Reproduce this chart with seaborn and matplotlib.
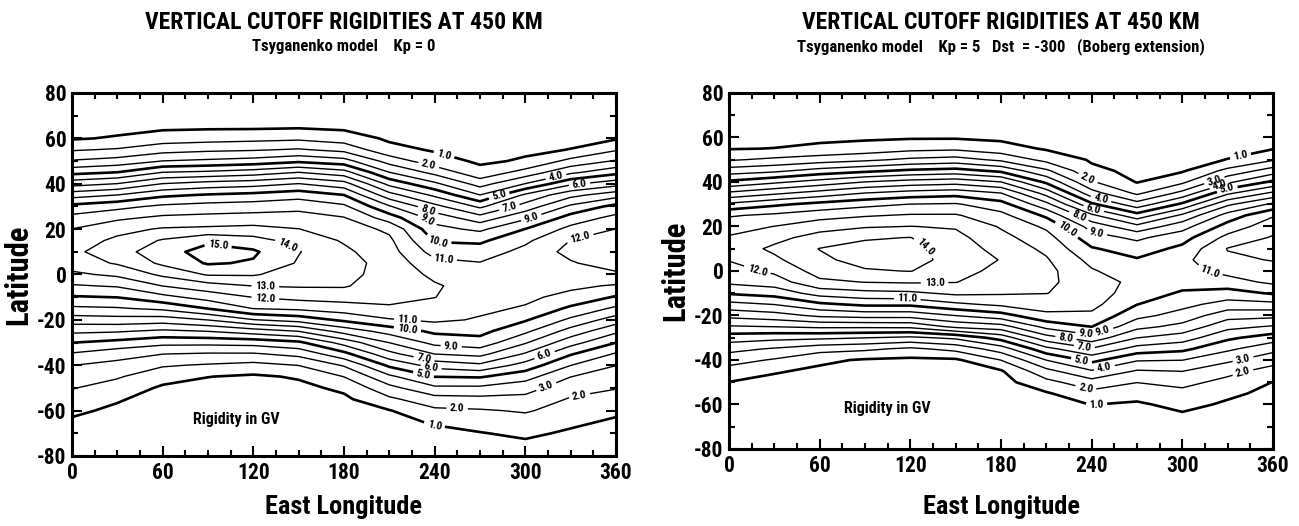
import numpy as np
import matplotlib
matplotlib.use("Agg")
import matplotlib.pyplot as plt
import seaborn as sns
from matplotlib.ticker import MultipleLocator
from matplotlib import font_manager
from matplotlib.font_manager import FontProperties

# ---------------- data ----------------
lats = [80, 75, 70, 65, 60, 55, 50, 45, 40, 35, 30, 25, 20, 15, 10, 5, 0,
        -5, -10, -15, -20, -25, -30, -35, -40, -45, -50, -55, -60, -65, -70, -75, -80]
lons = [0, 30, 60, 90, 120, 150, 180, 210, 240, 270, 300, 330, 360]
levels = [1, 2, 3, 4, 5, 6, 7, 8, 9, 10, 11, 12, 13, 14, 15]

# Kp = 0 : rigidity (GV) profiles, north -> south, one list per east longitude
kp0_lon000 = [0.1, 0.2, 0.4, 0.7, 0.9, 1.9, 3.1, 4.7, 6.6, 8.6, 10.3, 11.3, 12.02, 12.5, 12.8, 12.5, 11.8,
              10.9, 9.9, 8.8, 7.5, 6.2, 5.02, 3.9, 3.02, 2.5, 2.05, 1.6, 1.2, 0.85, 0.6, 0.35, 0.2]
kp0_lon030 = [0.1, 0.2, 0.4, 0.7, 1.1, 2.1, 3.4, 5.02, 7.02, 9.02, 10.7, 11.8, 12.7, 13.2, 13.5, 13.1, 12.2,
              11.1, 10.02, 8.9, 7.6, 6.1, 4.7, 3.4, 2.7, 2.1, 1.6, 1.1, 0.8, 0.55, 0.4, 0.25, 0.15]
kp0_lon060 = [0.1, 0.3, 0.5, 0.8, 1.5, 2.6, 4.02, 6.02, 8.02, 9.8, 11.2, 12.2, 13.1, 14.1, 14.7, 14.2, 13.2,
              12.02, 10.7, 9.2, 7.5, 5.8, 4.3, 3.02, 2.1, 1.4, 0.85, 0.6, 0.45, 0.35, 0.25, 0.15, 0.1]
kp0_lon090 = [0.1, 0.3, 0.5, 0.85, 1.6, 2.8, 4.2, 6.2, 8.4, 10.1, 11.4, 12.3, 13.2, 14.85, 15.3, 15.1, 14.1,
              12.6, 11.4, 10.02, 8.02, 6.02, 4.3, 2.9, 1.9, 1.02, 0.7, 0.5, 0.4, 0.3, 0.2, 0.15, 0.1]
kp0_lon120 = [0.1, 0.3, 0.5, 0.85, 1.7, 2.9, 4.4, 6.5, 8.6, 10.3, 11.5, 12.4, 13.3, 14.4, 15.15, 14.9, 14.1,
              13.02, 12.02, 11.02, 8.95, 6.5, 4.4, 2.9, 1.7, 0.85, 0.6, 0.45, 0.35, 0.25, 0.2, 0.15, 0.1]
kp0_lon150 = [0.1, 0.3, 0.55, 0.9, 1.8, 3.1, 4.8, 7.02, 9.02, 10.6, 11.7, 12.4, 13.02, 13.6, 14.05, 13.9, 13.5,
              13.1, 12.3, 11.2, 9.4, 7.02, 4.8, 3.3, 2.02, 1.1, 0.75, 0.55, 0.4, 0.3, 0.2, 0.15, 0.1]
kp0_lon180 = [0.1, 0.3, 0.5, 0.8, 1.5, 2.7, 4.4, 6.4, 8.4, 10.02, 11.2, 12.05, 12.5, 12.9, 13.2, 13.4, 13.3,
              13.1, 12.4, 11.5, 10.2, 8.4, 6.4, 4.7, 3.1, 2.02, 1.2, 0.8, 0.6, 0.45, 0.3, 0.2, 0.1]
kp0_lon210 = [0.1, 0.2, 0.35, 0.6, 0.85, 1.3, 2.6, 4.02, 5.7, 7.4, 9.1, 10.5, 11.8, 12.2, 12.4, 12.6, 12.6,
              12.4, 12.2, 11.9, 10.9, 9.4, 8.02, 6.7, 5.2, 3.8, 2.7, 1.8, 0.95, 0.7, 0.5, 0.3, 0.2]
kp0_lon240 = [0.1, 0.15, 0.3, 0.5, 0.7, 0.9, 1.4, 2.7, 4.2, 5.8, 7.3, 8.6, 9.3, 9.9, 10.6, 11.3, 11.8,
              12.1, 12.02, 11.6, 11.2, 10.2, 9.3, 8.02, 6.4, 5.02, 3.8, 2.6, 1.8, 1.1, 0.75, 0.45, 0.25]
kp0_lon270 = [0.1, 0.1, 0.2, 0.35, 0.5, 0.7, 0.85, 1.3, 2.6, 4.02, 5.8, 7.4, 8.8, 9.8, 10.5, 11.05, 11.3,
              11.6, 11.4, 11.2, 10.9, 10.3, 9.6, 8.3, 6.8, 5.1, 3.8, 2.7, 1.9, 1.4, 0.95, 0.6, 0.3]
kp0_lon300 = [0.1, 0.15, 0.25, 0.45, 0.65, 0.85, 1.1, 2.4, 4.02, 6.2, 7.4, 8.8, 10.02, 10.8, 11.3, 11.6, 11.7,
              11.4, 11.2, 10.9, 10.1, 9.2, 8.1, 6.9, 5.6, 4.4, 3.4, 2.7, 2.1, 1.6, 1.2, 0.8, 0.5]
kp0_lon330 = [0.1, 0.2, 0.35, 0.55, 0.8, 1.02, 2.3, 3.8, 5.8, 7.7, 9.2, 10.4, 11.3, 12.02, 12.3, 11.9, 11.6,
              11.2, 10.7, 9.8, 8.8, 7.6, 6.4, 5.1, 4.02, 3.02, 2.4, 1.9, 1.6, 1.2, 0.85, 0.55, 0.3]
kp0_lon360 = kp0_lon000

# Kp = 5, Dst = -300 (Boberg extension)
kp5_lon000 = [0.1, 0.15, 0.3, 0.5, 0.7, 0.95, 1.9, 3.5, 5.2, 7.2, 9.2, 10.9, 11.6, 12.1, 12.4, 12.05, 11.6,
              11.2, 10.1, 8.7, 7.3, 5.9, 4.5, 3.3, 2.4, 1.6, 0.98, 0.75, 0.55, 0.4, 0.3, 0.2, 0.1]
kp5_lon030 = [0.1, 0.15, 0.3, 0.5, 0.7, 1.02, 2.2, 3.8, 5.8, 7.8, 9.8, 11.2, 12.02, 12.7, 13.2, 12.8, 12.2,
              11.5, 10.4, 9.02, 7.6, 6.02, 4.3, 2.9, 1.9, 1.1, 0.7, 0.5, 0.4, 0.3, 0.2, 0.15, 0.1]
kp5_lon060 = [0.1, 0.15, 0.3, 0.55, 0.8, 1.2, 2.5, 4.4, 6.4, 8.4, 10.3, 11.6, 12.6, 13.4, 14.03, 13.8, 13.4,
              12.8, 11.4, 9.8, 8.2, 6.2, 4.2, 2.4, 1.2, 0.8, 0.6, 0.45, 0.35, 0.25, 0.2, 0.15, 0.1]
kp5_lon090 = [0.1, 0.15, 0.3, 0.55, 0.85, 1.4, 2.8, 4.8, 7.02, 9.02, 10.7, 11.9, 12.9, 13.9, 14.3, 14.35, 13.9,
              13.02, 11.7, 10.2, 8.4, 6.2, 4.02, 2.2, 0.9, 0.65, 0.5, 0.4, 0.3, 0.25, 0.2, 0.15, 0.1]
kp5_lon120 = [0.1, 0.15, 0.3, 0.6, 0.9, 1.7, 3.2, 5.2, 7.4, 9.4, 11.02, 12.1, 13.02, 14.02, 14.25, 14.3, 14.03,
              13.1, 11.8, 10.2, 8.4, 6.25, 3.8, 1.8, 0.8, 0.6, 0.45, 0.35, 0.3, 0.25, 0.2, 0.15, 0.1]
kp5_lon150 = [0.1, 0.15, 0.3, 0.6, 0.9, 1.8, 3.4, 5.4, 7.6, 9.6, 11.1, 12.1, 12.9, 13.3, 13.6, 13.7, 13.4,
              13.03, 12.2, 10.8, 9.02, 7.25, 4.2, 2.3, 0.85, 0.6, 0.45, 0.35, 0.3, 0.25, 0.2, 0.15, 0.1]
kp5_lon180 = [0.1, 0.15, 0.3, 0.55, 0.8, 1.4, 2.8, 4.8, 7.02, 9.02, 10.4, 11.3, 11.9, 12.3, 12.6, 12.95, 12.7,
              12.4, 12.1, 11.2, 9.6, 7.6, 5.4, 3.5, 2.02, 0.9, 0.65, 0.5, 0.4, 0.3, 0.2, 0.15, 0.1]
kp5_lon210 = [0.1, 0.15, 0.25, 0.45, 0.65, 0.9, 1.7, 3.2, 4.8, 6.6, 8.3, 9.8, 10.8, 11.4, 11.8, 12.1, 12.3,
              12.25, 12.02, 11.4, 10.8, 9.3, 7.6, 5.7, 4.02, 2.7, 1.7, 0.9, 0.65, 0.5, 0.35, 0.2, 0.1]
kp5_lon240 = [0.1, 0.1, 0.2, 0.35, 0.5, 0.7, 0.9, 1.2, 2.1, 3.4, 5.2, 7.2, 8.6, 9.4, 10.1, 10.7, 11.1,
              11.35, 11.6, 11.3, 10.8, 10.02, 8.6, 6.9, 5.3, 3.9, 2.6, 1.7, 1.02, 0.7, 0.5, 0.3, 0.15]
kp5_lon270 = [0.05, 0.1, 0.15, 0.25, 0.35, 0.5, 0.65, 0.8, 0.95, 1.8, 3.4, 5.4, 7.3, 8.8, 9.5, 10.1, 10.4,
              10.8, 10.4, 10.02, 9.3, 8.3, 7.02, 5.6, 4.1, 2.9, 2.02, 1.4, 0.85, 0.6, 0.4, 0.25, 0.15]
kp5_lon300 = [0.05, 0.1, 0.2, 0.3, 0.45, 0.6, 0.75, 0.9, 1.8, 3.3, 5.2, 7.2, 8.6, 9.6, 10.25, 10.75, 10.7,
              10.3, 9.9, 9.3, 8.6, 7.7, 6.5, 5.25, 4.02, 3.02, 2.3, 1.7, 1.3, 0.85, 0.6, 0.4, 0.2]
kp5_lon330 = [0.1, 0.15, 0.25, 0.4, 0.6, 0.8, 1.02, 2.3, 3.8, 5.8, 7.8, 9.4, 10.4, 11.3, 12.05, 11.8, 11.3,
              10.6, 9.6, 8.6, 7.4, 6.3, 5.2, 4.2, 3.2, 2.3, 1.7, 1.2, 0.85, 0.6, 0.4, 0.25, 0.15]
kp5_lon360 = kp5_lon000

xticks = [0, 60, 120, 180, 240, 300, 360]
yticks = [-80, -60, -40, -20, 0, 20, 40, 60, 80]

title_main = "VERTICAL CUTOFF RIGIDITIES AT 450 KM"
subtitle_kp0 = "Tsyganenko model    Kp = 0"
subtitle_kp5 = "Tsyganenko model    Kp = 5   Dst  = -300   (Boberg extension)"
note_text = "Rigidity in GV"

# ---------------- styling ----------------
sns.set_theme(style="ticks")
plt.rcParams["font.family"] = ["Liberation Sans", "DejaVu Sans"]
plt.rcParams["text.color"] = "black"
plt.rcParams["axes.labelcolor"] = "black"
plt.rcParams["axes.edgecolor"] = "black"
plt.rcParams["xtick.color"] = "black"
plt.rcParams["ytick.color"] = "black"
plt.rcParams["axes.unicode_minus"] = False


def _wint(w):
    if isinstance(w, (int, float)):
        return int(w)
    table = {"bold": 700, "heavy": 800, "black": 900, "extra bold": 800, "demibold": 600,
             "semibold": 600, "demi": 600, "normal": 400, "regular": 400, "book": 400}
    return table.get(str(w).lower(), 400)


def pick_condensed_bold():
    prefs = ["Liberation Sans Narrow", "Roboto Condensed", "Noto Sans", "Open Sans", "DejaVu Sans"]
    for pref in prefs:
        for f in font_manager.fontManager.ttflist:
            low = f.fname.lower()
            if not f.name.startswith(pref):
                continue
            if "italic" in low or "oblique" in low or f.style != "normal":
                continue
            if "extracondensed" in low or "semicondensed" in low:
                continue
            narrow = ("narrow" in low or "condensed" in low or f.stretch == "condensed")
            if narrow and _wint(f.weight) == 700:
                return f.fname
    return None


cpath = pick_condensed_bold()
if cpath:
    def FP(size):
        return FontProperties(fname=cpath, size=size)
else:
    def FP(size):
        return FontProperties(family=["Liberation Sans", "DejaVu Sans"], weight="bold", size=size)

fig = plt.figure(figsize=(12.99, 5.26), dpi=100)
fig.patch.set_facecolor("white")

panels = [
    dict(cols=[kp0_lon000, kp0_lon030, kp0_lon060, kp0_lon090, kp0_lon120, kp0_lon150, kp0_lon180,
               kp0_lon210, kp0_lon240, kp0_lon270, kp0_lon300, kp0_lon330, kp0_lon360],
         rect=[0.0554, 0.1331, 0.4188, 0.6901], sub=subtitle_kp0, note=(109, -64), xlab_y=-0.14,
         manual=[(245, 50), (236, 48), (320, 44), (283, 34), (336, 39), (290, 28), (236, 29),
                 (304, 25), (234, 23), (242, 13), (246, 7), (337, 14), (97, 15), (143, 13),
                 (128, -5), (128, -10), (222, -20), (222, -24), (251, -31), (312, -34),
                 (233, -37), (238, -40), (233, -43), (313, -48), (335, -50), (255, -57), (240, -66)]),
    dict(cols=[kp5_lon000, kp5_lon030, kp5_lon060, kp5_lon090, kp5_lon120, kp5_lon150, kp5_lon180,
               kp5_lon210, kp5_lon240, kp5_lon270, kp5_lon300, kp5_lon330, kp5_lon360],
         rect=[0.5612, 0.1464, 0.4188, 0.6768], sub=subtitle_kp5, note=(105, -62), xlab_y=-0.163,
         manual=[(339, 50), (237, 41), (321, 41), (246, 32), (325, 38), (330, 36), (241, 27),
                 (231, 24), (243, 16), (224, 19), (319, 3), (18, -1), (136, -4), (132, 13),
                 (118, -12), (247, -26), (236, -29), (223, -30), (235, -35), (248, -42),
                 (233, -41), (340, -39), (339, -43), (236, -53), (243, -59)]),
]

lat_arr = np.array(lats)[::-1]
for p in panels:
    Z = np.column_stack(p["cols"])[::-1, :]
    ax = fig.add_axes(p["rect"])
    ax.set_facecolor("white")
    lw = [1.9 if (lv == 1 or lv % 5 == 0) else 1.0 for lv in levels]
    cs = ax.contour(lons, lat_arr, Z, levels=levels, colors="black", linewidths=lw)
    txts = ax.clabel(cs, fmt="%.1f", fontsize=8, inline=True, inline_spacing=3,
                     manual=p["manual"])
    for t in txts:
        t.set_fontproperties(FP(8))

    ax.set_xlim(0, 360)
    ax.set_ylim(-80, 80)
    ax.set_xticks(xticks)
    ax.set_yticks(yticks)
    ax.set_xticklabels([str(v) for v in xticks], fontproperties=FP(15.5))
    ax.set_yticklabels([str(v) for v in yticks], fontproperties=FP(15.5))
    ax.xaxis.set_minor_locator(MultipleLocator(15))
    ax.yaxis.set_minor_locator(MultipleLocator(10))
    ax.tick_params(which="both", direction="in", top=True, right=True, width=1.5, color="black")
    ax.tick_params(which="major", length=7, pad=4)
    ax.tick_params(which="minor", length=4)
    for s in ax.spines.values():
        s.set_linewidth(2.2)
        s.set_color("black")
    ax.set_xlabel("East Longitude", fontproperties=FP(19))
    ax.set_ylabel("Latitude", fontproperties=FP(22))
    ax.xaxis.label.set_verticalalignment("center")
    ax.yaxis.label.set_horizontalalignment("center")
    ax.yaxis.label.set_verticalalignment("center")
    ax.xaxis.set_label_coords(0.5, p["xlab_y"])
    ax.yaxis.set_label_coords(-0.099, 0.5)
    ax.text(p["note"][0], p["note"][1], note_text, ha="center", va="center",
            fontproperties=FP(11.5))

    cx = p["rect"][0] + p["rect"][2] / 2
    fig.text(cx, 0.958, title_main, ha="center", va="center", fontproperties=FP(17))
    fig.text(cx, 0.912, p["sub"], ha="center", va="center", fontproperties=FP(12))

fig.savefig("out.png", dpi=100, facecolor="white")
